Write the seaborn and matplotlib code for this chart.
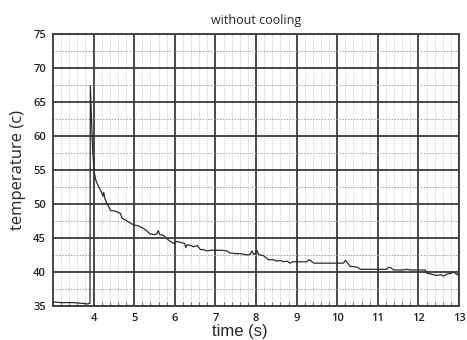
import matplotlib
matplotlib.use("Agg")
import matplotlib.pyplot as plt
import seaborn as sns
import pandas as pd
import numpy as np
from matplotlib.ticker import MultipleLocator, FixedLocator

time_s = [3.0, 3.2, 3.5, 3.7, 3.85, 3.91, 3.92, 3.95, 3.98, 4.02,
          4.06, 4.12, 4.18, 4.23, 4.25, 4.27, 4.32, 4.38, 4.42, 4.5,
          4.6, 4.66, 4.7, 4.8, 4.9, 5.0, 5.1, 5.2, 5.3, 5.39,
          5.5, 5.56, 5.59, 5.63, 5.72, 5.8, 5.89, 5.97, 6.05, 6.17,
          6.24, 6.27, 6.3, 6.4, 6.46, 6.55, 6.63, 6.7, 6.79, 6.9,
          7.04, 7.15, 7.28, 7.36, 7.5, 7.61, 7.7, 7.78, 7.86, 7.9,
          7.94, 7.98, 8.02, 8.06, 8.1, 8.18, 8.27, 8.31, 8.43, 8.5,
          8.6, 8.68, 8.76, 8.84, 8.9, 9.0, 9.1, 9.25, 9.3, 9.36,
          9.42, 9.6, 9.74, 9.9, 10.0, 10.15, 10.2, 10.26, 10.32, 10.4,
          10.49, 10.57, 10.8, 11.0, 11.22, 11.26, 11.32, 11.39, 11.63, 11.7,
          11.8, 11.96, 12.1, 12.17, 12.21, 12.3, 12.45, 12.55, 12.62, 12.7,
          12.8, 12.87, 12.95, 13.0]
temperature_c = [35.6, 35.5, 35.5, 35.4, 35.3, 35.4, 67.4, 62.0, 57.5, 54.5,
                 53.4, 52.6, 51.9, 51.2, 51.7, 50.9, 50.2, 49.5, 49.0, 49.0,
                 48.8, 48.6, 47.9, 47.6, 47.2, 46.9, 46.8, 46.5, 46.1, 45.6,
                 45.5, 45.6, 46.1, 45.5, 45.4, 44.9, 44.5, 44.2, 44.5, 44.3,
                 44.2, 43.6, 44.0, 43.9, 43.7, 43.9, 43.3, 43.3, 43.1, 43.2,
                 43.2, 43.2, 43.1, 42.8, 42.7, 42.7, 42.6, 42.5, 42.6, 43.1,
                 42.6, 42.7, 43.2, 42.6, 42.5, 42.4, 42.0, 41.8, 41.8, 41.6,
                 41.7, 41.5, 41.6, 41.3, 41.5, 41.5, 41.5, 41.5, 41.8, 41.6,
                 41.3, 41.3, 41.3, 41.3, 41.3, 41.3, 41.7, 41.3, 40.8, 40.8,
                 40.7, 40.4, 40.4, 40.4, 40.4, 40.7, 40.6, 40.3, 40.3, 40.4,
                 40.3, 40.3, 40.3, 40.3, 39.8, 39.7, 39.5, 39.6, 39.4, 39.7,
                 39.8, 40.0, 39.6, 39.9]
x_ticks = [4, 5, 6, 7, 8, 9, 10, 11, 12, 13]
y_ticks = [35, 40, 45, 50, 55, 60, 65, 70, 75]

df = pd.DataFrame({"time": time_s, "temp": temperature_c})

sns.set_style("white")
plt.rcParams["font.family"] = ["Open Sans", "DejaVu Sans"]

fig = plt.figure(figsize=(4.67, 3.40), dpi=100)
ax = fig.add_axes([0.1135, 0.1, 0.8695, 0.8])

sns.lineplot(data=df, x="time", y="temp", ax=ax, sort=False, estimator=None,
             color="#2b2b2b", linewidth=0.9)

ax.set_xlim(3.0, 13.0)
ax.set_ylim(35, 75)
ax.xaxis.set_major_locator(FixedLocator(x_ticks))
ax.yaxis.set_major_locator(FixedLocator(y_ticks))
ax.xaxis.set_minor_locator(MultipleLocator(0.2))
ax.yaxis.set_minor_locator(MultipleLocator(2.5))

ax.grid(which="minor", axis="x", color="#c4c4c4", linestyle=(0, (1.5, 1.5)), linewidth=0.6)
ax.grid(which="minor", axis="y", color="#a0a0a0", linestyle=(0, (1.5, 1.5)), linewidth=0.7)
ax.grid(which="major", color="#3a3a3a", linestyle="-", linewidth=1.3)
ax.set_axisbelow(True)

for s in ax.spines.values():
    s.set_color("#3a3a3a")
    s.set_linewidth(1.3)

ax.tick_params(which="both", direction="in", bottom=True, left=False, top=False, right=False)
ax.tick_params(which="minor", axis="x", length=3, width=0.6, color="#555555")
ax.tick_params(which="major", axis="x", length=0)
ax.tick_params(which="major", labelsize=8, pad=5, colors="#222222")
for lab in ax.get_xticklabels() + ax.get_yticklabels():
    lab.set_fontweight("semibold")

ax.set_title("without cooling", fontsize=9, pad=7)
ax.set_xlabel("time (s)", fontsize=12, family=["Liberation Sans"], labelpad=1)
ax.xaxis.set_label_coords(0.46, -0.065, transform=ax.transAxes)
ax.xaxis.label.set_verticalalignment("top")
ax.set_ylabel("temperature (c)", fontsize=12, labelpad=5)

fig.savefig("out.png", dpi=100)
